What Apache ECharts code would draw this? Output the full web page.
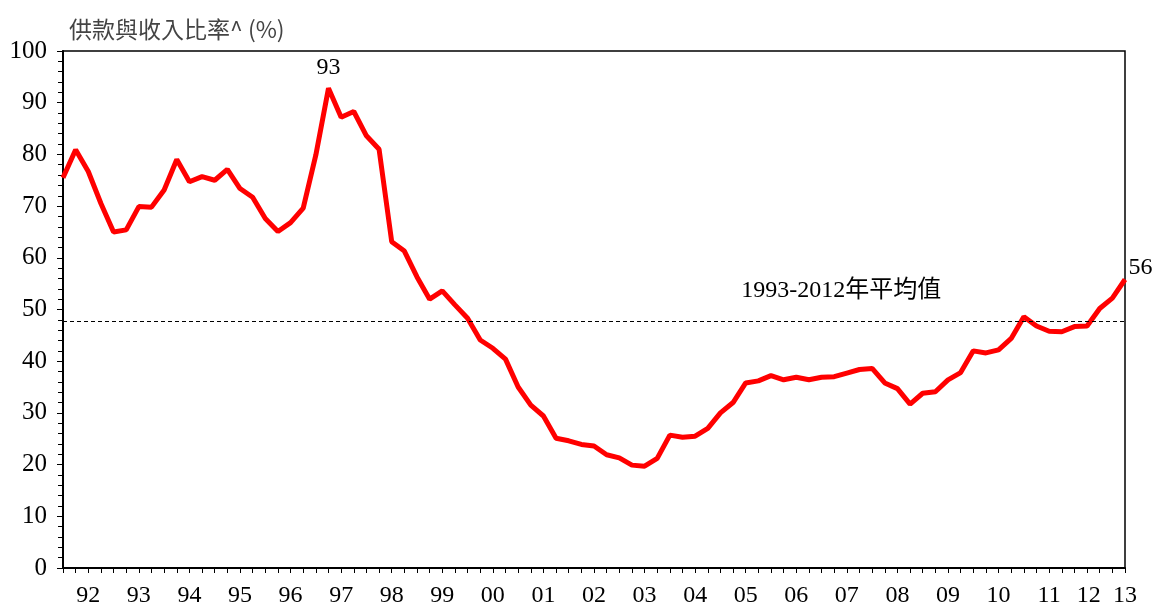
<!DOCTYPE html>
<html>
<head>
<meta charset="utf-8">
<script src="https://cdn.jsdelivr.net/npm/echarts@6/dist/echarts.min.js"></script>
<style>
  html, body { margin: 0; padding: 0; background: #fff; }
  #chart { width: 1155px; height: 603px; }
</style>
</head>
<body>
<div id="chart"></div>
<script>
// quarterly, 1992 Q1 .. 2013 Q1
const years = ["92","93","94","95","96","97","98","99","00","01","02","03","04","05","06","07","08","09","10","11","12","13"]
const ratio = [
  75.5, 80.9, 76.7, 70.5,   // 92
  65.0, 65.4, 69.9, 69.8,   // 93
  73.1, 79.0, 74.7, 75.7,   // 94
  75.0, 77.1, 73.4, 71.7,   // 95
  67.6, 65.1, 66.8, 69.6,   // 96
  79.9, 92.8, 87.2, 88.3,   // 97
  83.6, 81.0, 63.1, 61.3,   // 98
  56.3, 52.0, 53.6, 50.9,   // 99
  48.3, 44.1, 42.5, 40.4,   // 00
  35.0, 31.5, 29.4, 25.1,   // 01
  24.6, 23.9, 23.6, 21.9,   // 02
  21.3, 19.9, 19.7, 21.2,   // 03
  25.7, 25.3, 25.5, 27.0,   // 04
  30.0, 32.0, 35.8, 36.2,   // 05
  37.2, 36.4, 36.9, 36.4,   // 06
  36.9, 37.0, 37.7, 38.4,   // 07
  38.6, 35.8, 34.7, 31.7,   // 08
  33.8, 34.1, 36.4, 37.8,   // 09
  42.0, 41.6, 42.2, 44.4,   // 10
  48.6, 46.8, 45.8, 45.7,   // 11
  46.7, 46.8, 50.2, 52.2,   // 12
  55.8                      // 13 Q1
]
const average = 47.8
const labelled = [21, 84]   // points with value labels (peak, latest)

const categories = ratio.map((_, i) => years[Math.floor(i / 4)] + "Q" + (i % 4 + 1))

const serif = "Liberation Serif"

const seriesData = ratio.map((v, i) => {
  if (!labelled.includes(i)) return v
  const last = i === ratio.length - 1
  return {
    value: v,
    label: {
      show: true,
      position: last ? "right" : "top",
      distance: last ? 3 : 8,
      offset: last ? [0, -12] : [0, 0],
      formatter: p => Math.round(p.value),
      fontFamily: serif,
      fontSize: 24,
      color: "#000",
    },
  }
})

const chart = echarts.init(document.getElementById("chart"))

chart.setOption({
  animation: false,
  textStyle: { fontFamily: serif },
  title: {
    text: "供款與收入比率^ (%)",
    left: 64,
    top: 13,
    textStyle: {
      fontFamily: "Noto Sans CJK TC",
      fontSize: 23,
      fontWeight: "normal",
      color: "#444",
    },
  },
  grid: {
    left: 63, right: 30, top: 51, bottom: 35,
    outerBoundsMode: "none",
    containLabel: false,
    show: true,
    borderColor: "#000",
    borderWidth: 1.5,
  },
  xAxis: {
    type: "category",
    data: categories,
    boundaryGap: false,
    axisLine: { lineStyle: { color: "#000", width: 2 } },
    axisTick: { show: true, interval: 0, length: 5, lineStyle: { color: "#000" } },
    axisLabel: {
      interval: 0,
      margin: 16,
      fontSize: 24,
      color: "#000",
      formatter: (val, idx) => {
        if (idx === ratio.length - 1) return years[years.length - 1]
        if (idx % 4 !== 2) return ""
        const y = years[Math.floor(idx / 4)]
        return idx === 82 ? "{s|" + y + "}" : y
      },
      rich: { s: { fontSize: 24, color: "#000", padding: [0, 22, 0, 0] } },
    },
    splitLine: { show: false },
  },
  yAxis: {
    type: "value",
    min: 0,
    max: 100,
    interval: 10,
    axisLine: { show: true, lineStyle: { color: "#000", width: 2 } },
    axisTick: { show: true, length: 6, lineStyle: { color: "#000" } },
    minorTick: { show: true, splitNumber: 5, length: 5, lineStyle: { color: "#000" } },
    axisLabel: { margin: 16, fontSize: 25, color: "#000" },
    splitLine: { show: false },
  },
  series: [
    {
      type: "line",
      data: seriesData,
      symbol: "circle",
      symbolSize: 1,
      showAllSymbol: true,
      itemStyle: { color: "#ff0000" },
      lineStyle: { color: "#ff0000", width: 5 },
      z: 3,
      markLine: {
        silent: true,
        symbol: "none",
        data: [{ yAxis: average }],
        lineStyle: { color: "#000", type: [4, 3], width: 1.2 },
        label: { show: false },
      },
      markPoint: {
        silent: true,
        symbol: "circle",
        symbolSize: 1,
        itemStyle: { color: "rgba(0,0,0,0)" },
        data: [{
          coord: [61, average],
          label: {
            show: true,
            formatter: "1993-2012年平均值",
            fontFamily: serif + ", Noto Sans CJK TC",
            fontSize: 24,
            color: "#000",
            offset: [7, -30],
          },
        }],
      },
    },
  ],
})
</script>
</body>
</html>
